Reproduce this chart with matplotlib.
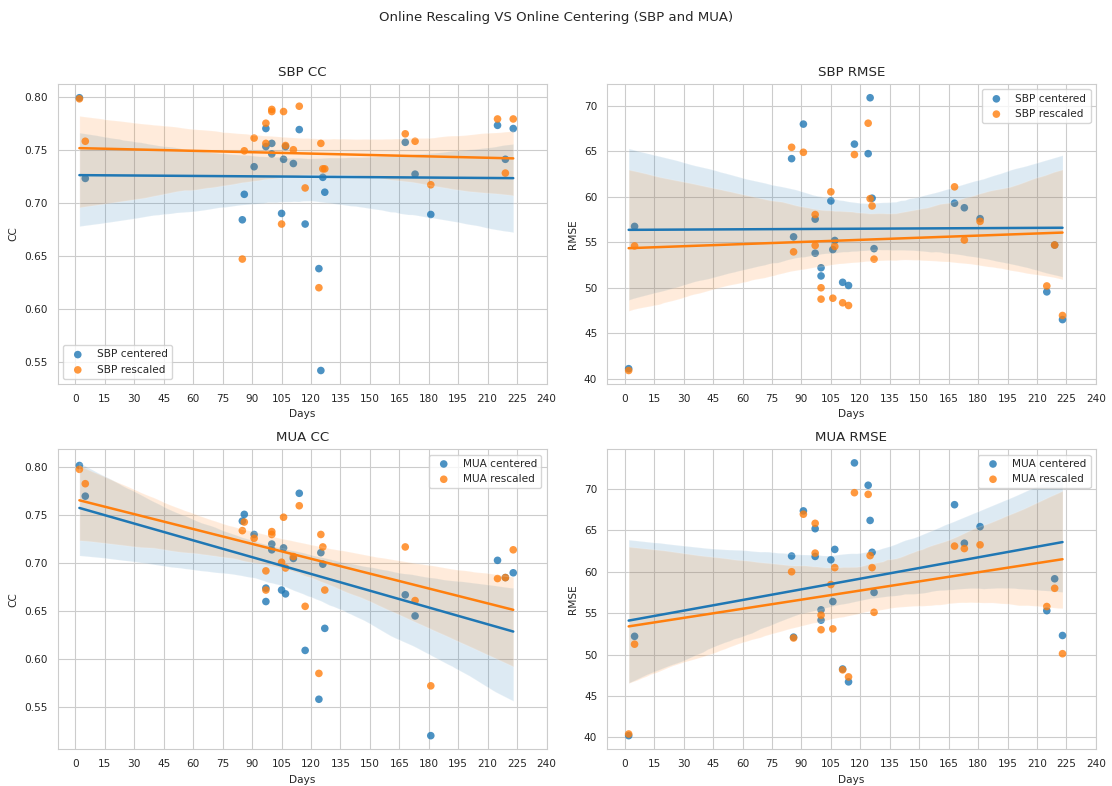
import numpy as np
import matplotlib
matplotlib.use("Agg")
import matplotlib.pyplot as plt
import seaborn as sns

days = [2, 5, 85, 86, 91, 97, 97, 100, 100, 105, 106, 107, 111, 114, 117,
        124, 125, 126, 127, 168, 173, 181, 215, 219, 223]

sbp_cc_centered = [0.799, 0.723, 0.684, 0.708, 0.734, 0.770, 0.753, 0.756, 0.746,
                   0.690, 0.741, 0.753, 0.737, 0.769, 0.680, 0.638, 0.542, 0.724,
                   0.710, 0.757, 0.727, 0.689, 0.773, 0.741, 0.770]
sbp_cc_rescaled = [0.798, 0.758, 0.647, 0.749, 0.761, 0.775, 0.756, 0.788, 0.786,
                   0.680, 0.786, 0.754, 0.750, 0.791, 0.714, 0.620, 0.756, 0.732,
                   0.732, 0.765, 0.758, 0.717, 0.779, 0.728, 0.779]

sbp_rmse_centered = [41.1, 56.75, 64.2, 55.6, 68.0, 57.55, 53.8, 52.2, 51.3,
                     59.55, 54.2, 55.2, 50.6, 50.25, 65.8, 64.75, 70.9, 59.85,
                     54.3, 59.3, 58.8, 57.6, 49.55, 54.7, 46.5]
sbp_rmse_rescaled = [40.9, 54.6, 65.45, 53.95, 64.9, 58.05, 54.65, 50.0, 48.75,
                     60.55, 48.85, 54.55, 48.35, 48.05, 64.65, 68.1, 59.8, 59.0,
                     53.15, 61.1, 55.25, 57.3, 50.2, 54.7, 46.95]

mua_cc_centered = [0.802, 0.770, 0.744, 0.751, 0.730, 0.674, 0.660, 0.720, 0.714,
                   0.672, 0.716, 0.668, 0.705, 0.773, 0.609, 0.558, 0.711, 0.699,
                   0.632, 0.667, 0.645, 0.520, 0.703, 0.685, 0.690]
mua_cc_rescaled = [0.798, 0.783, 0.734, 0.743, 0.726, 0.692, 0.672, 0.733, 0.730,
                   0.701, 0.748, 0.695, 0.707, 0.760, 0.655, 0.585, 0.730, 0.717,
                   0.672, 0.717, 0.661, 0.572, 0.684, 0.685, 0.714]

mua_rmse_centered = [40.2, 52.2, 61.9, 52.1, 67.35, 65.2, 61.85, 55.4, 54.15,
                     61.45, 56.4, 62.7, 48.25, 46.7, 73.15, 70.45, 66.2, 62.35,
                     57.5, 68.1, 63.45, 65.45, 55.3, 59.15, 52.3]
mua_rmse_rescaled = [40.4, 51.25, 60.0, 52.0, 66.95, 65.85, 62.25, 54.75, 53.0,
                     58.45, 53.1, 60.5, 48.15, 47.3, 69.55, 69.35, 61.95, 60.5,
                     55.1, 63.1, 62.8, 63.25, 55.8, 58.0, 50.1]

xticks = list(range(0, 241, 15))

panels = [
    ("SBP CC", "CC", sbp_cc_centered, sbp_cc_rescaled, "SBP centered", "SBP rescaled", "lower left"),
    ("SBP RMSE", "RMSE", sbp_rmse_centered, sbp_rmse_rescaled, "SBP centered", "SBP rescaled", "upper right"),
    ("MUA CC", "CC", mua_cc_centered, mua_cc_rescaled, "MUA centered", "MUA rescaled", "upper right"),
    ("MUA RMSE", "RMSE", mua_rmse_centered, mua_rmse_rescaled, "MUA centered", "MUA rescaled", "upper right"),
]

sns.set_style("whitegrid")
plt.rcParams['font.family'] = ['DejaVu Sans']

fs_tick = 7.6
fs_title = 9.6

fig, axes = plt.subplots(2, 2, figsize=(11.12, 7.86), dpi=100)
fig.subplots_adjust(left=0.0519, right=0.9855, top=0.893, bottom=0.0467,
                    wspace=0.1235, hspace=0.217)

x = np.array(days, dtype=float)
skw = {"s": 30, "edgecolors": "none", "linewidths": 0}
for ax, (title, ylab, yc, yr, lc, lr, loc) in zip(axes.flat, panels):
    sns.regplot(x=x, y=np.array(yc), ax=ax, label=lc, color="#1f77b4", seed=1,
                scatter_kws=dict(skw), line_kws={"lw": 1.8})
    sns.regplot(x=x, y=np.array(yr), ax=ax, label=lr, color="#ff7f0e", seed=2,
                scatter_kws=dict(skw), line_kws={"lw": 1.8})
    ax.set_xticks(xticks)
    ax.set_title(title, fontsize=fs_title)
    ax.set_xlabel("Days", fontsize=fs_tick)
    ax.set_ylabel(ylab, fontsize=fs_tick)
    ax.tick_params(labelsize=fs_tick)
    ax.legend(loc=loc, fontsize=fs_tick)

fig.suptitle("Online Rescaling VS Online Centering (SBP and MUA)", fontsize=9.5, y=0.986)
fig.savefig("out.png", dpi=100)
